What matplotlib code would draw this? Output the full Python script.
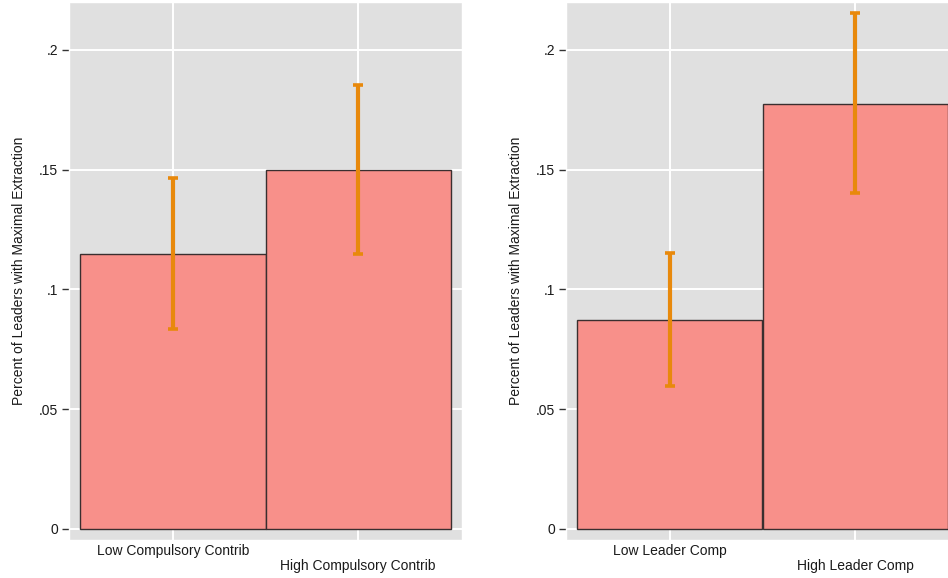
import matplotlib
matplotlib.use("Agg")
import matplotlib.pyplot as plt

plt.rcParams["font.family"] = ["Liberation Sans", "DejaVu Sans"]

# share of leaders choosing maximal extraction, with 95% CI bounds
contrib_labels = ["Low Compulsory Contrib", "High Compulsory Contrib"]
contrib_means = [0.115, 0.150]
contrib_lo = [0.0835, 0.115]
contrib_hi = [0.1466, 0.1853]

comp_labels = ["Low Leader Comp", "High Leader Comp"]
comp_means = [0.0873, 0.1775]
comp_lo = [0.0597, 0.1403]
comp_hi = [0.1152, 0.2155]

y_ticks = [0, 0.05, 0.1, 0.15, 0.2]
y_tick_labels = ["0", ".05", ".1", ".15", ".2"]

bg_color = "#e0e0e0"
bar_color = "#f8908a"
edge_color = "#3a2f2f"
err_color = "#e8890c"
text_color = "#1a1a1a"


def draw_panel(ax, labels, means, lo, hi):
    ax.set_facecolor(bg_color)
    x = [1, 2]
    ax.set_axisbelow(True)
    ax.grid(True, color="white", linewidth=1.4)
    ax.bar(x, means, width=1.0, color=bar_color, edgecolor=edge_color,
           linewidth=1.0, zorder=2)
    yerr = [[m - l for m, l in zip(means, lo)], [h - m for m, h in zip(means, hi)]]
    ax.errorbar(x, means, yerr=yerr, fmt="none", ecolor=err_color,
                elinewidth=3.0, capsize=3.6, capthick=2.6, zorder=3)

    ax.set_xlim(0.44, 2.56)
    ax.set_ylim(-0.0046, 0.22)
    ax.set_xticks(x)
    ax.set_xticklabels([labels[0], "\n" + labels[1]], fontsize=10,
                       color=text_color, linespacing=1.1)
    ax.tick_params(axis="x", length=0, pad=3)
    ax.set_yticks(y_ticks)
    ax.set_yticklabels(y_tick_labels, fontsize=10, color=text_color)
    ax.tick_params(axis="y", length=5, width=1.0, color="#333333", pad=3)
    for side in ["top", "right", "bottom", "left"]:
        ax.spines[side].set_color("white")
        ax.spines[side].set_linewidth(1.0)
    ax.set_ylabel("Percent of Leaders with Maximal Extraction", fontsize=10,
                  color=text_color, labelpad=9)


fig = plt.figure(figsize=(9.48, 5.78), dpi=100)
fig.patch.set_facecolor("white")

ax1 = fig.add_axes([69 / 948, 38 / 578, 393 / 948, 538 / 578])
ax2 = fig.add_axes([566 / 948, 38 / 578, 393 / 948, 538 / 578])

draw_panel(ax1, contrib_labels, contrib_means, contrib_lo, contrib_hi)
draw_panel(ax2, comp_labels, comp_means, comp_lo, comp_hi)

fig.savefig("out.png", dpi=100, facecolor="white")
plt.close(fig)
